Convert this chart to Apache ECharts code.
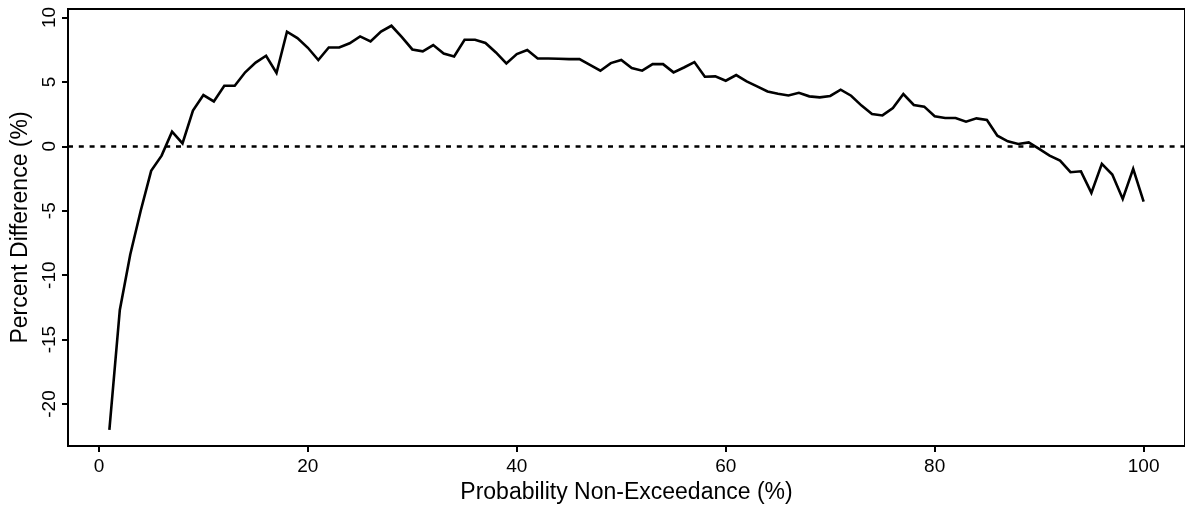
<!DOCTYPE html>
<html>
<head>
<meta charset="utf-8">
<script src="https://cdn.jsdelivr.net/npm/echarts@6/dist/echarts.min.js"></script>
<style>
html,body{margin:0;padding:0;background:#fff;}
#chart{width:1185px;height:512px;}
</style>
</head>
<body>
<div id="chart"></div>
<script>
const probability = [1,2,3,4,5,6,7,8,9,10,11,12,13,14,15,16,17,18,19,20,21,22,23,24,25,26,27,28,29,30,31,32,33,34,35,36,37,38,39,40,41,42,43,44,45,46,47,48,49,50,51,52,53,54,55,56,57,58,59,60,61,62,63,64,65,66,67,68,69,70,71,72,73,74,75,76,77,78,79,80,81,82,83,84,85,86,87,88,89,90,91,92,93,94,95,96,97,98,99,100];
const percentDifference = [
  -22.0, -12.7, -8.4, -5.0, -1.9, -0.72, 1.14, 0.23, 2.77, 3.98,
  3.49, 4.7, 4.7, 5.75, 6.5, 7.03, 5.69, 8.9, 8.4, 7.65,
  6.7, 7.67, 7.67, 8.0, 8.53, 8.14, 8.91, 9.36, 8.48, 7.52,
  7.37, 7.86, 7.21, 6.98, 8.27, 8.27, 8.02, 7.29, 6.44, 7.16,
  7.47, 6.82, 6.82, 6.8, 6.77, 6.77, 6.33, 5.87, 6.46, 6.70,
  6.08, 5.87, 6.38, 6.38, 5.74, 6.12, 6.54, 5.40, 5.43, 5.09,
  5.53, 5.04, 4.65, 4.26, 4.08, 3.95, 4.16, 3.88, 3.80, 3.91,
  4.40, 3.93, 3.16, 2.51, 2.40, 2.98, 4.06, 3.21, 3.08, 2.33,
  2.2, 2.2, 1.91, 2.17, 2.05, 0.83, 0.39, 0.18, 0.31, -0.2,
  -0.72, -1.11, -2.01, -1.94, -3.61, -1.36, -2.19, -4.08, -1.75, -4.29
];
const xTicks = [0, 20, 40, 60, 80, 100];
const yTicks = [-20, -15, -10, -5, 0, 5, 10];
const referenceLevel = 0;

const font = '"Liberation Sans", Arial, sans-serif';
const chart = echarts.init(document.getElementById('chart'), null, {renderer: 'canvas'});
const xMin = -2.96, xMax = 103.96, yMin = -23.26, yMax = 10.66;

chart.setOption({
  animation: false,
  backgroundColor: '#ffffff',
  grid: {
    left: 68, top: 9, width: 1122, height: 437,
    show: true, borderColor: '#000', borderWidth: 2, backgroundColor: 'transparent'
  },
  xAxis: {
    type: 'value', min: xMin, max: xMax,
    name: 'Probability Non-Exceedance (%)',
    nameLocation: 'middle', nameGap: 35,
    nameTextStyle: {fontFamily: font, fontSize: 23, color: '#000'},
    axisLine: {show: true, onZero: false, lineStyle: {color: '#000', width: 2}},
    axisTick: {show: true, length: 6, lineStyle: {color: '#000', width: 2}, customValues: xTicks},
    axisLabel: {show: true, margin: 11, fontFamily: font, fontSize: 19, color: '#000', customValues: xTicks},
    splitLine: {show: false}
  },
  yAxis: {
    type: 'value', min: yMin, max: yMax,
    name: 'Percent Difference (%)',
    nameLocation: 'middle', nameGap: 36, nameRotate: 90,
    nameTextStyle: {fontFamily: font, fontSize: 23, color: '#000'},
    axisLine: {show: true, onZero: false, lineStyle: {color: '#000', width: 2}},
    axisTick: {show: true, length: 6, lineStyle: {color: '#000', width: 2}, customValues: yTicks},
    axisLabel: {show: true, rotate: 90, margin: 9, fontFamily: font, fontSize: 19, color: '#000', customValues: yTicks},
    splitLine: {show: false}
  },
  series: [{
    type: 'line',
    data: probability.map((p, i) => [p, percentDifference[i]]),
    showSymbol: false,
    symbol: 'none',
    lineStyle: {color: '#000', width: 2.6, join: 'miter'},
    clip: true,
    markLine: {
      silent: true,
      symbol: ['none', 'none'],
      label: {show: false},
      lineStyle: {color: '#000', width: 2.6, type: [5, 5.8]},
      data: [{yAxis: referenceLevel}]
    }
  }]
});
</script>
</body>
</html>
